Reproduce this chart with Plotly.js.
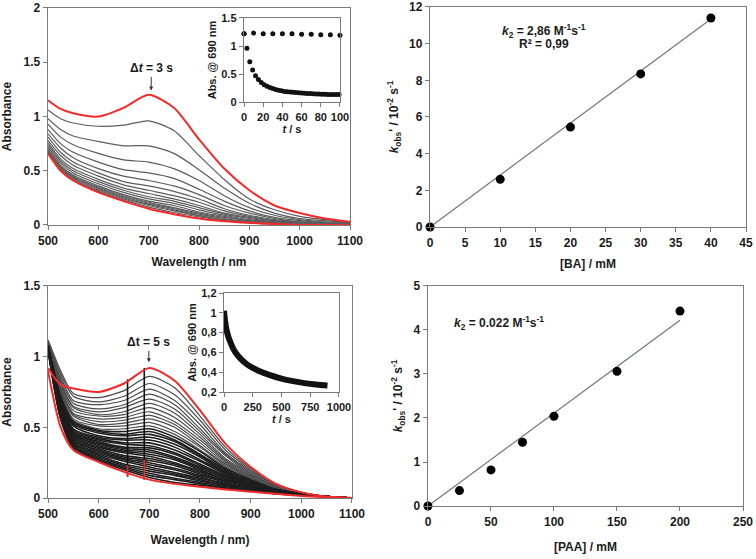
<!DOCTYPE html>
<html>
<head>
<meta charset="utf-8">
<script src="https://cdn.plot.ly/plotly-3.0.1.min.js"></script>
<style>
  html, body { margin: 0; padding: 0; background: #fff; }
  #chart { width: 756px; height: 559px; }
</style>
</head>
<body>
<div id="chart"></div>
<script>
const wavelengths = [500, 525, 550, 600, 650, 700, 750, 800, 850, 900, 950, 1000, 1050, 1100];

// BA run (top left): first and last scan are red, the rest grey
const baFirst = [1.15, 1.07, 1.03, 1.00, 1.08, 1.20, 1.08, 0.79, 0.52, 0.32, 0.18, 0.11, 0.06, 0.03];
const baLast  = [0.66, 0.50, 0.41, 0.30, 0.22, 0.15, 0.10, 0.06, 0.035, 0.02, 0.01, 0, 0, 0];
const baScans = [
  [1.06, 0.98, 0.94, 0.91, 0.92, 0.96, 0.87, 0.64, 0.42, 0.24, 0.14, 0.08, 0.05, 0.03],
  [0.98, 0.88, 0.82, 0.77, 0.73, 0.73, 0.66, 0.51, 0.34, 0.20, 0.11, 0.06, 0.04, 0.02],
  [0.93, 0.81, 0.74, 0.66, 0.60, 0.58, 0.52, 0.41, 0.27, 0.16, 0.09, 0.05, 0.03, 0.02],
  [0.88, 0.75, 0.67, 0.58, 0.51, 0.48, 0.43, 0.33, 0.22, 0.13, 0.07, 0.04, 0.02, 0.01],
  [0.84, 0.71, 0.62, 0.52, 0.45, 0.41, 0.36, 0.28, 0.18, 0.11, 0.06, 0.03, 0.02, 0.01],
  [0.81, 0.67, 0.58, 0.48, 0.40, 0.36, 0.31, 0.24, 0.15, 0.09, 0.05, 0.03, 0.02, 0.01],
  [0.78, 0.64, 0.55, 0.45, 0.37, 0.32, 0.27, 0.21, 0.13, 0.08, 0.04, 0.02, 0.01, 0.01],
  [0.76, 0.61, 0.52, 0.42, 0.34, 0.29, 0.24, 0.18, 0.11, 0.07, 0.04, 0.02, 0.01, 0.01],
  [0.74, 0.59, 0.50, 0.40, 0.32, 0.26, 0.22, 0.16, 0.10, 0.06, 0.03, 0.02, 0.01, 0],
  [0.72, 0.57, 0.48, 0.38, 0.30, 0.24, 0.20, 0.14, 0.09, 0.05, 0.03, 0.01, 0.01, 0],
  [0.70, 0.55, 0.46, 0.36, 0.28, 0.22, 0.18, 0.12, 0.08, 0.04, 0.02, 0.01, 0, 0],
  [0.69, 0.54, 0.45, 0.35, 0.27, 0.21, 0.16, 0.11, 0.07, 0.04, 0.02, 0.01, 0, 0],
  [0.68, 0.53, 0.44, 0.34, 0.26, 0.20, 0.15, 0.10, 0.06, 0.03, 0.02, 0.01, 0, 0],
  [0.67, 0.52, 0.43, 0.33, 0.25, 0.19, 0.14, 0.09, 0.05, 0.03, 0.01, 0.01, 0, 0],
  [0.665, 0.51, 0.42, 0.32, 0.24, 0.18, 0.13, 0.085, 0.05, 0.02, 0.01, 0, 0, 0],
  [0.66, 0.505, 0.415, 0.31, 0.23, 0.165, 0.115, 0.075, 0.04, 0.02, 0.01, 0, 0, 0]
];

// PAA run (bottom left)
const paaFirst = [0.92, 0.80, 0.775, 0.75, 0.81, 0.92, 0.83, 0.62, 0.385, 0.22, 0.10, 0.04, 0.01, 0];
const paaLast  = [0.90, 0.50, 0.34, 0.255, 0.185, 0.13, 0.10, 0.08, 0.06, 0.045, 0.03, 0.015, 0.005, 0];
const paaScans = [
  [1.12, 0.90, 0.74, 0.71, 0.76, 0.86, 0.78, 0.58, 0.36, 0.21, 0.10, 0.04, 0.01, 0],
  [1.11, 0.88, 0.72, 0.68, 0.72, 0.81, 0.73, 0.55, 0.34, 0.20, 0.09, 0.04, 0.01, 0],
  [1.11, 0.86, 0.69, 0.66, 0.69, 0.77, 0.69, 0.52, 0.32, 0.19, 0.09, 0.04, 0.01, 0],
  [1.10, 0.84, 0.67, 0.63, 0.66, 0.735, 0.66, 0.49, 0.31, 0.18, 0.08, 0.03, 0.01, 0],
  [1.10, 0.82, 0.65, 0.61, 0.64, 0.70, 0.63, 0.47, 0.30, 0.17, 0.08, 0.03, 0.01, 0],
  [1.10, 0.81, 0.64, 0.59, 0.61, 0.67, 0.60, 0.45, 0.28, 0.17, 0.08, 0.03, 0.01, 0],
  [1.10, 0.80, 0.62, 0.58, 0.59, 0.64, 0.57, 0.43, 0.27, 0.16, 0.08, 0.03, 0.01, 0],
  [1.09, 0.78, 0.60, 0.56, 0.57, 0.61, 0.54, 0.41, 0.26, 0.15, 0.07, 0.03, 0.01, 0],
  [1.09, 0.77, 0.59, 0.54, 0.55, 0.585, 0.52, 0.39, 0.25, 0.15, 0.07, 0.03, 0.01, 0],
  [1.09, 0.76, 0.58, 0.52, 0.53, 0.56, 0.50, 0.37, 0.24, 0.14, 0.07, 0.03, 0.01, 0],
  [1.09, 0.75, 0.56, 0.51, 0.51, 0.535, 0.47, 0.36, 0.23, 0.14, 0.07, 0.03, 0.01, 0],
  [1.08, 0.73, 0.55, 0.49, 0.49, 0.51, 0.45, 0.34, 0.22, 0.13, 0.06, 0.03, 0.01, 0],
  [1.08, 0.72, 0.54, 0.48, 0.47, 0.49, 0.43, 0.33, 0.21, 0.13, 0.06, 0.03, 0.01, 0],
  [1.08, 0.71, 0.53, 0.47, 0.45, 0.47, 0.41, 0.31, 0.20, 0.12, 0.06, 0.03, 0.01, 0],
  [1.08, 0.70, 0.52, 0.46, 0.44, 0.45, 0.40, 0.30, 0.19, 0.12, 0.06, 0.03, 0.01, 0],
  [1.08, 0.69, 0.51, 0.44, 0.42, 0.43, 0.38, 0.29, 0.18, 0.11, 0.06, 0.03, 0.01, 0],
  [1.08, 0.69, 0.49, 0.43, 0.41, 0.41, 0.36, 0.27, 0.18, 0.11, 0.06, 0.02, 0.01, 0],
  [1.07, 0.68, 0.48, 0.42, 0.39, 0.39, 0.34, 0.26, 0.17, 0.10, 0.05, 0.02, 0.01, 0],
  [1.07, 0.67, 0.47, 0.41, 0.38, 0.37, 0.32, 0.24, 0.16, 0.10, 0.05, 0.02, 0.01, 0],
  [1.07, 0.66, 0.46, 0.40, 0.36, 0.355, 0.31, 0.23, 0.15, 0.10, 0.05, 0.02, 0.01, 0],
  [1.07, 0.65, 0.46, 0.39, 0.35, 0.34, 0.29, 0.22, 0.15, 0.09, 0.05, 0.02, 0.01, 0],
  [1.07, 0.64, 0.45, 0.38, 0.34, 0.325, 0.28, 0.21, 0.14, 0.09, 0.05, 0.02, 0.01, 0],
  [1.07, 0.64, 0.44, 0.37, 0.33, 0.31, 0.27, 0.20, 0.13, 0.09, 0.05, 0.02, 0.01, 0],
  [1.07, 0.63, 0.43, 0.36, 0.32, 0.295, 0.25, 0.19, 0.13, 0.08, 0.05, 0.02, 0.01, 0],
  [1.06, 0.62, 0.42, 0.35, 0.30, 0.28, 0.24, 0.18, 0.12, 0.08, 0.04, 0.02, 0.01, 0],
  [1.06, 0.62, 0.41, 0.34, 0.29, 0.265, 0.23, 0.17, 0.12, 0.08, 0.04, 0.02, 0.01, 0],
  [1.06, 0.61, 0.41, 0.33, 0.28, 0.25, 0.21, 0.16, 0.11, 0.07, 0.04, 0.02, 0.01, 0],
  [1.06, 0.60, 0.40, 0.32, 0.27, 0.235, 0.20, 0.15, 0.10, 0.07, 0.04, 0.02, 0.01, 0],
  [1.06, 0.59, 0.39, 0.31, 0.26, 0.22, 0.18, 0.14, 0.10, 0.07, 0.04, 0.02, 0.01, 0],
  [1.06, 0.59, 0.38, 0.30, 0.24, 0.205, 0.17, 0.13, 0.09, 0.06, 0.04, 0.02, 0.01, 0],
  [1.06, 0.58, 0.37, 0.29, 0.23, 0.19, 0.16, 0.12, 0.09, 0.06, 0.04, 0.02, 0.01, 0],
  [1.05, 0.57, 0.37, 0.28, 0.22, 0.175, 0.14, 0.11, 0.08, 0.06, 0.03, 0.02, 0.01, 0],
  [1.05, 0.56, 0.36, 0.27, 0.21, 0.16, 0.13, 0.10, 0.07, 0.05, 0.03, 0.02, 0.01, 0],
  [1.05, 0.56, 0.35, 0.26, 0.20, 0.145, 0.11, 0.09, 0.07, 0.05, 0.03, 0.02, 0.01, 0]
];

// detector glitches in the PAA spectra (nm, absorbance)
const spikeNm = [657, 690];
const spikeLow = [0.15, 0.13];
const spikeHigh = [0.84, 0.92];
const spikeRedTop = [0.23, 0.27];

// inset kinetics at 690 nm
const baTime = [0, 3, 6, 9, 12, 15, 18, 21, 24, 27, 30, 33, 36, 39, 42, 45, 48, 51, 54, 57, 60, 63, 66, 69, 72, 75, 78, 81, 84, 87, 90, 93, 96, 99];
const baAbs = [1.22, 0.96, 0.72, 0.57, 0.47, 0.40, 0.35, 0.31, 0.28, 0.26, 0.24, 0.225, 0.21, 0.20, 0.19, 0.185, 0.18, 0.175, 0.17, 0.165, 0.16, 0.155, 0.152, 0.15, 0.147, 0.145, 0.142, 0.14, 0.138, 0.136, 0.135, 0.134, 0.133, 0.132];
const blankTime = [0, 10, 20, 30, 40, 50, 60, 70, 80, 90, 100];
const blankAbs = [1.22, 1.23, 1.22, 1.22, 1.22, 1.22, 1.21, 1.21, 1.20, 1.20, 1.19];
const paaTime = [0, 5, 10, 15, 20, 30, 40, 50, 75, 100, 150, 200, 250, 300, 400, 500, 600, 700, 800, 900];
const paaAbs = [1.02, 0.96, 0.91, 0.87, 0.84, 0.79, 0.75, 0.72, 0.65, 0.60, 0.53, 0.48, 0.445, 0.415, 0.37, 0.335, 0.31, 0.29, 0.275, 0.265];
const paaInsetTicks = [0.2, 0.4, 0.6, 0.8, 1, 1.2];
const paaInsetLabels = ['0,2', '0,4', '0,6', '0,8', '1', '1,2'];

// kobs vs concentration
const baConc = [0, 10, 20, 30, 40];
const baKobs = [0, 2.6, 5.45, 8.35, 11.4];
const baFitX = [0, 40];
const baFitY = [0, 11.35];
const paaConc = [0, 25, 50, 75, 100, 150, 200];
const paaKobs = [0, 0.35, 0.82, 1.45, 2.04, 3.06, 4.43];
const paaFitX = [0, 200];
const paaFitY = [0, 4.22];

const RED = '#f42a2a';
const FIT = '#6d7c7a';
const AXIS = '#7a7a7a';

function spectrum(y, xa, ya, color, width) {
  return {
    x: wavelengths, y: y, xaxis: xa, yaxis: ya,
    type: 'scatter', mode: 'lines',
    line: { color: color, width: width, shape: 'spline', smoothing: 0.7 },
    hoverinfo: 'skip'
  };
}

function spikes(top) {
  let x = [], y = [];
  spikeNm.forEach((nm, i) => {
    x.push(nm, nm, null);
    y.push(spikeLow[i], top[i], null);
  });
  return { x: x, y: y };
}

let data = [];
baScans.forEach(s => data.push(spectrum(s, 'x', 'y', '#5c5c5c', 1.2)));
data.push(spectrum(baFirst, 'x', 'y', RED, 2));
data.push(spectrum(baLast, 'x', 'y', RED, 2));

data.push({ x: blankTime, y: blankAbs, xaxis: 'x2', yaxis: 'y2', type: 'scatter', mode: 'markers',
  marker: { color: '#111', size: 5 }, cliponaxis: false, hoverinfo: 'skip' });
data.push({ x: baTime, y: baAbs, xaxis: 'x2', yaxis: 'y2', type: 'scatter', mode: 'markers',
  marker: { color: '#111', size: 5 }, cliponaxis: false, hoverinfo: 'skip' });

data.push({ x: baFitX, y: baFitY, xaxis: 'x3', yaxis: 'y3', type: 'scatter', mode: 'lines',
  line: { color: FIT, width: 1.3 }, hoverinfo: 'skip' });
data.push({ x: baConc, y: baKobs, xaxis: 'x3', yaxis: 'y3', type: 'scatter', mode: 'markers',
  marker: { color: '#000', size: 9 }, cliponaxis: false });

// upper scans look grey, the crowded lower ones nearly black
paaScans.forEach((s, i) => {
  if (i < 12) data.push(spectrum(s, 'x4', 'y4', '#4a4a4a', 1.2));
  else data.push(spectrum(s, 'x4', 'y4', '#1e1e1e', 1.6));
});
let blackSpikes = spikes(spikeHigh);
data.push({ x: blackSpikes.x, y: blackSpikes.y, xaxis: 'x4', yaxis: 'y4', type: 'scatter', mode: 'lines',
  line: { color: '#111', width: 1.6 }, hoverinfo: 'skip' });
data.push(spectrum(paaFirst, 'x4', 'y4', RED, 2));
data.push(spectrum(paaLast, 'x4', 'y4', RED, 2));
let redSpikes = spikes(spikeRedTop);
data.push({ x: redSpikes.x, y: redSpikes.y, xaxis: 'x4', yaxis: 'y4', type: 'scatter', mode: 'lines',
  line: { color: RED, width: 1.6 }, hoverinfo: 'skip' });

data.push({ x: paaTime, y: paaAbs, xaxis: 'x5', yaxis: 'y5', type: 'scatter', mode: 'lines',
  line: { color: '#111', width: 6, shape: 'spline' }, hoverinfo: 'skip' });

data.push({ x: paaFitX, y: paaFitY, xaxis: 'x6', yaxis: 'y6', type: 'scatter', mode: 'lines',
  line: { color: FIT, width: 1.3 }, hoverinfo: 'skip' });
data.push({ x: paaConc, y: paaKobs, xaxis: 'x6', yaxis: 'y6', type: 'scatter', mode: 'markers',
  marker: { color: '#000', size: 9 }, cliponaxis: false });

function axis(domain, range, dtick, anchor, title, standoff, size) {
  return {
    domain: domain, range: range, dtick: dtick, anchor: anchor,
    showline: true, mirror: true, linecolor: AXIS, linewidth: 1.3,
    ticks: 'outside', ticklen: 4, tickcolor: AXIS, tickwidth: 1,
    showgrid: false, zeroline: false, fixedrange: true,
    tickfont: { size: size || 12 },
    title: { text: title, standoff: standoff, font: { size: size || 12 } }
  };
}

const kobsTitle = "<i>k</i><sub>obs</sub>' / 10<sup>-2</sup> s<sup>-1</sup>";
const noteFont = { size: 12 };

let layout = {
  width: 756, height: 559,
  margin: { l: 0, r: 0, t: 0, b: 0 },
  paper_bgcolor: '#fff', plot_bgcolor: 'rgba(0,0,0,0)',
  showlegend: false,
  font: { family: 'Liberation Sans, Arial, sans-serif', size: 12, color: '#1b1b1b', weight: 'bold' },

  xaxis: axis([0.0635, 0.463], [500, 1100], 100, 'y', 'Wavelength / nm', 11),
  yaxis: axis([0.5975, 0.9857], [0, 2], 0.5, 'x', 'Absorbance', 9),
  xaxis2: axis([0.3228, 0.4497], [0, 100], 20, 'y2', '<i>t</i> / s', 0, 11),
  yaxis2: axis([0.8175, 0.9678], [0, 1.5], 0.5, 'x2', 'Abs. @ 690 nm', 2, 11),
  xaxis3: axis([0.5688, 0.9868], [0, 45], 5, 'y3', '[BA] / mM', 11),
  yaxis3: axis([0.5939, 0.9875], [0, 12], 2, 'x3', kobsTitle, 7),
  xaxis4: axis([0.0635, 0.4656], [500, 1100], 100, 'y4', 'Wavelength / nm)', 16),
  yaxis4: axis([0.1091, 0.4884], [0, 1.5], 0.5, 'x4', 'Absorbance', 9),
  xaxis5: axis([0.2963, 0.4484], [0, 1000], 250, 'y5', '<i>t</i> / s', 0, 11),
  yaxis5: axis([0.2987, 0.4758], [0.2, 1.2], 0.2, 'x5', 'Abs. @ 690 nm', 2, 11),
  xaxis6: axis([0.5661, 0.9828], [0, 250], 50, 'y6', '[PAA] / mM', 15),
  yaxis6: axis([0.0948, 0.4884], [0, 5], 1, 'x6', kobsTitle, 8),

  annotations: [
    { xref: 'x', yref: 'y', x: 705, y: 1.24, ax: 0, ay: -22, text: 'Δ<i>t</i> = 3 s', font: noteFont,
      showarrow: true, arrowhead: 2, arrowsize: 0.8, arrowwidth: 1, arrowcolor: '#333' },
    { xref: 'x4', yref: 'y4', x: 699, y: 0.96, ax: 0, ay: -20, text: 'Δt = 5 s', font: noteFont,
      showarrow: true, arrowhead: 2, arrowsize: 0.8, arrowwidth: 1, arrowcolor: '#333' },
    { xref: 'x3', yref: 'y3', x: 16.2, y: 10.7, showarrow: false, font: noteFont,
      text: '<i>k</i><sub>2</sub> = 2,86 M<sup>-1</sup>s<sup>-1</sup>' },
    { xref: 'x3', yref: 'y3', x: 16.2, y: 10.0, showarrow: false, font: noteFont, text: 'R² = 0,99' },
    { xref: 'x6', yref: 'y6', x: 19, y: 4.16, xanchor: 'left', showarrow: false, font: noteFont,
      text: '<i>k</i><sub>2</sub> = 0.022 M<sup>-1</sup>s<sup>-1</sup>' }
  ]
};

layout.yaxis5.tickvals = paaInsetTicks;
layout.yaxis5.ticktext = paaInsetLabels;
delete layout.yaxis5.dtick;

Plotly.newPlot('chart', data, layout, { displayModeBar: false, staticPlot: true });
</script>
</body>
</html>
